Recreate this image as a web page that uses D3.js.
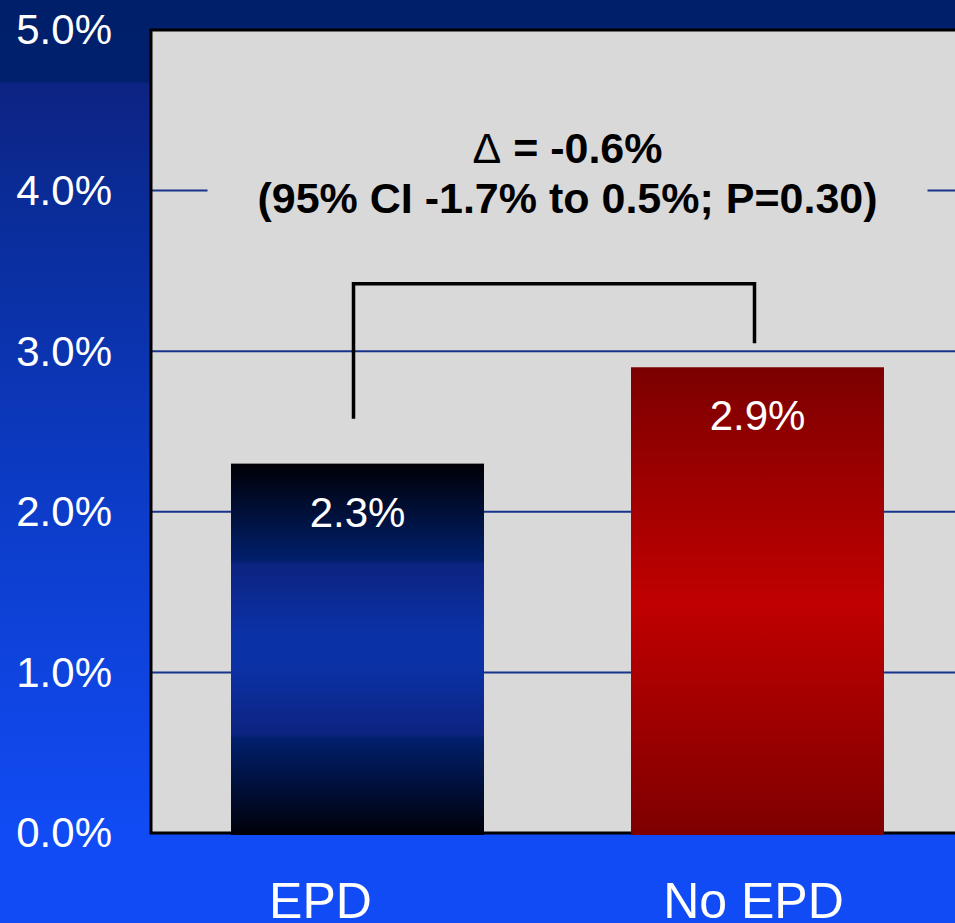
<!DOCTYPE html>
<html>
<head>
<meta charset="utf-8">
<script src="https://cdn.jsdelivr.net/npm/d3@7"></script>
<style>
  html, body { margin: 0; padding: 0; background: #114bf6; }
  svg { display: block; }
  text { font-family: "Liberation Sans", Arial, Helvetica, sans-serif; }
</style>
</head>
<body>
<svg id="chart" width="955" height="923"></svg>
<script>
// Event rates by group
const categories = ["EPD", "No EPD"];
const values = [0.023, 0.029];
const valueLabels = ["2.3%", "2.9%"];
const yTicks = [0, 0.01, 0.02, 0.03, 0.04, 0.05];
const yTickLabels = ["0.0%", "1.0%", "2.0%", "3.0%", "4.0%", "5.0%"];

// Comparison bracket (feet and bar in rate units) and its caption
const bracketTop = 0.0342;
const bracketFeet = [0.0258, 0.0305];
const captionSymbol = "\u0394";
const captionLines = [" = -0.6%", "(95% CI -1.7% to 0.5%; P=0.30)"];

const W = 955, H = 923;
const plot = { left: 151, top: 30, right: 964, bottom: 833 };
const labelShift = [-37, -4];

const svg = d3.select("#chart");
const defs = svg.append("defs");

// Slide background: dark navy band on top fading to bright blue
const bg = defs.append("linearGradient").attr("id", "bgGrad")
  .attr("x1", 0).attr("y1", 0).attr("x2", 0).attr("y2", 1);
[[0, "#001f6a"], [0.089, "#00206e"], [0.09, "#0d2382"], [0.22, "#0a2c98"],
 [0.55, "#0c3cc8"], [0.9, "#114bf4"], [1, "#114cf6"]]
  .forEach(([o, c]) => bg.append("stop").attr("offset", o).attr("stop-color", c));

// Bar fills: dark at both ends, bright in the middle
const blueGrad = defs.append("linearGradient").attr("id", "blueGrad")
  .attr("x1", 0).attr("y1", 0).attr("x2", 0).attr("y2", 1);
[[0, "#000005"], [0.26, "#001f6c"], [0.27, "#0c2380"], [0.45, "#0b31a6"],
 [0.55, "#0b31a6"], [0.73, "#0c2380"], [0.74, "#001f6c"], [1, "#000008"]]
  .forEach(([o, c]) => blueGrad.append("stop").attr("offset", o).attr("stop-color", c));

const redGrad = defs.append("linearGradient").attr("id", "redGrad")
  .attr("x1", 0).attr("y1", 0).attr("x2", 0).attr("y2", 1);
[[0, "#7c0000"], [0.5, "#c00000"], [1, "#7e0000"]]
  .forEach(([o, c]) => redGrad.append("stop").attr("offset", o).attr("stop-color", c));

const fills = ["url(#blueGrad)", "url(#redGrad)"];

svg.append("rect").attr("width", W).attr("height", H).attr("fill", "url(#bgGrad)");
svg.append("rect").attr("x", 0).attr("y", plot.bottom + 2).attr("width", W)
  .attr("height", H - plot.bottom - 2).attr("fill", "#114bf6");

const x = d3.scaleBand().domain(categories)
  .range([plot.left, plot.right]).paddingInner(0.3675).paddingOuter(0.2);
const y = d3.scaleLinear().domain([0, 0.05]).range([plot.bottom, plot.top]);

// Plot area
svg.append("rect")
  .attr("x", plot.left).attr("y", plot.top)
  .attr("width", plot.right - plot.left).attr("height", plot.bottom - plot.top)
  .attr("fill", "#d9d9d9");

// Gridlines
svg.append("g").selectAll("line")
  .data(yTicks.filter(t => t > 0 && t < 0.05))
  .join("line")
  .attr("x1", plot.left).attr("x2", plot.right)
  .attr("y1", d => y(d)).attr("y2", d => y(d))
  .attr("stroke", "#17338a").attr("stroke-width", 2);

// Frame: left, top, bottom
svg.append("path")
  .attr("d", `M${plot.right},${plot.top} H${plot.left} V${plot.bottom} H${plot.right}`)
  .attr("fill", "none").attr("stroke", "#000").attr("stroke-width", 3);

// Y axis labels
const yAxis = d3.axisLeft(y).tickValues(yTicks)
  .tickFormat((d, i) => yTickLabels[i]).tickSize(0).tickPadding(39);
const gy = svg.append("g").attr("transform", `translate(${plot.left},0)`).call(yAxis);
gy.select(".domain").remove();
gy.selectAll("text")
  .attr("fill", "#fff").attr("font-size", 42)
  .attr("font-family", '"Liberation Sans", Arial, sans-serif')
  .attr("dy", "0.33em");

// Bars
svg.append("g").selectAll("rect")
  .data(values)
  .join("rect")
  .attr("x", (d, i) => x(categories[i]))
  .attr("y", d => y(d))
  .attr("width", x.bandwidth())
  .attr("height", d => plot.bottom + 2 - y(d))
  .attr("fill", (d, i) => fills[i]);

// Value labels inside bars
svg.append("g").selectAll("text")
  .data(values)
  .join("text")
  .attr("x", (d, i) => x(categories[i]) + x.bandwidth() / 2)
  .attr("y", d => y(d) + 63)
  .attr("text-anchor", "middle")
  .attr("fill", "#fff").attr("font-size", 42)
  .text((d, i) => valueLabels[i]);

// Category labels
const xAxis = d3.axisBottom(x).tickSize(0).tickPadding(0);
const gx = svg.append("g").attr("transform", `translate(0,${plot.bottom})`).call(xAxis);
gx.select(".domain").remove();
gx.selectAll("text")
  .attr("fill", "#fff").attr("font-size", 50)
  .attr("font-family", '"Liberation Sans", Arial, sans-serif')
  .attr("dy", null).attr("y", 85)
  .attr("x", (d, i) => labelShift[i]);

// Comparison bracket
const cx = categories.map(c => x(c) + x.bandwidth() / 2);
svg.append("path")
  .attr("d", `M${cx[0] - 4},${y(bracketFeet[0])} V${y(bracketTop)} H${cx[1] - 3} V${y(bracketFeet[1])}`)
  .attr("fill", "none").attr("stroke", "#000").attr("stroke-width", 3.5)
  .attr("stroke-linejoin", "miter");

// Caption with its own backing box over the 4% gridline
const capX = 567.5;
svg.append("rect")
  .attr("x", capX - 360).attr("y", 128).attr("width", 720).attr("height", 106)
  .attr("fill", "#d9d9d9");
const cap = svg.append("g")
  .attr("font-size", 43).attr("fill", "#000").attr("text-anchor", "middle");
const line1 = cap.append("text").attr("x", capX).attr("y", 163);
line1.append("tspan").attr("font-weight", "normal").text(captionSymbol);
line1.append("tspan").attr("font-weight", "bold").text(captionLines[0]);
cap.append("text").attr("x", capX).attr("y", 213)
  .attr("font-weight", "bold").text(captionLines[1]);
</script>
</body>
</html>
